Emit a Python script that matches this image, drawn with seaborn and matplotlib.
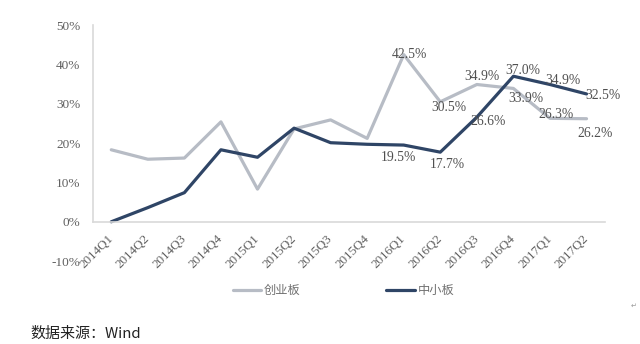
import matplotlib
matplotlib.use("Agg")
import matplotlib.pyplot as plt
import seaborn as sns
import pandas as pd

quarters = ["2014Q1", "2014Q2", "2014Q3", "2014Q4", "2015Q1", "2015Q2", "2015Q3",
            "2015Q4", "2016Q1", "2016Q2", "2016Q3", "2016Q4", "2017Q1", "2017Q2"]
chuangye = [18.3, 15.9, 16.2, 25.4, 8.3, 23.6, 25.9, 21.2, 42.5, 30.5, 34.9, 33.9, 26.3, 26.2]
zhongxiao = [0.0, 3.6, 7.4, 18.3, 16.4, 23.8, 20.1, 19.7, 19.5, 17.7, 26.6, 37.0, 34.9, 32.5]
series_names = ["创业板", "中小板"]
yticks = [-10, 0, 10, 20, 30, 40, 50]

# labelled points: quarter index -> text offset in points
labels_cy = {8: (4, 0), 9: (6, -4), 10: (4, 6), 11: (9, -7), 12: (4, 3), 13: (6, -11)}
labels_zx = {8: (-4, -9), 9: (5, -9), 10: (8, -3), 11: (7, 4), 12: (9, 3), 13: (12, -1)}

sns.set_theme(style="white")
plt.rcParams['font.family'] = ['Liberation Serif', 'Noto Sans CJK SC', 'DejaVu Sans']

df = pd.DataFrame({
    "quarter": quarters * 2,
    "value": chuangye + zhongxiao,
    "series": [series_names[0]] * len(quarters) + [series_names[1]] * len(quarters),
})
df["x"] = list(range(len(quarters))) * 2

fig = plt.figure(figsize=(6.4, 3.44), dpi=100)
ax = fig.add_axes([0.1453, 0.241, 0.7997, 0.686])

palette = {series_names[0]: "#b7bcc5", series_names[1]: "#2f4566"}
sns.lineplot(data=df, x="x", y="value", hue="series", palette=palette,
             linewidth=2.3, ax=ax, legend=False)

for s in ["top", "right"]:
    ax.spines[s].set_visible(False)
ax.spines["bottom"].set_position(("data", 0))
ax.spines["bottom"].set_color("#d9d9d9")
ax.spines["bottom"].set_linewidth(1.2)
ax.spines["left"].set_color("#d9d9d9")
ax.spines["left"].set_linewidth(1.2)

ax.set_xlim(-0.5, len(quarters) - 0.5)
ax.set_ylim(-10, 50)
ax.spines["left"].set_bounds(0, 50)
ax.set_yticks(yticks)
ax.set_yticklabels([f"{v}%" for v in yticks], fontsize=9.5, color="#606060")
ax.set_xticks(range(len(quarters)))
ax.set_xticklabels(quarters, rotation=45, ha="right", va="center",
                   rotation_mode="anchor", fontsize=9.4, color="#606060")
ax.tick_params(axis="both", length=0)
ax.tick_params(axis="x", pad=11)
ax.tick_params(axis="y", pad=9)
ax.set_xlabel("")
ax.set_ylabel("")

for i, (dx, dy) in labels_cy.items():
    ax.annotate(f"{chuangye[i]:.1f}%", (i, chuangye[i]), xytext=(dx, dy),
                textcoords="offset points", ha="center", va="center",
                fontsize=9.8, color="#505050")
for i, (dx, dy) in labels_zx.items():
    ax.annotate(f"{zhongxiao[i]:.1f}%", (i, zhongxiao[i]), xytext=(dx, dy),
                textcoords="offset points", ha="center", va="center",
                fontsize=9.8, color="#505050")

# legend
handles = [plt.Line2D([], [], color=palette[n], linewidth=2.3) for n in series_names]
leg = fig.legend(handles, series_names, loc="center", bbox_to_anchor=(0.537, 0.155),
                 ncol=2, frameon=False, fontsize=8.8, handlelength=2.3,
                 handletextpad=0.25, columnspacing=7.0)
for t in leg.get_texts():
    t.set_color("#707070")
    t.set_family(["Noto Sans CJK SC"])

fig.text(0.047, 0.03, "数据来源：Wind", fontsize=10.8, color="#222222",
         family=["Noto Sans CJK SC", "DejaVu Sans"], ha="left", va="center")
fig.text(0.994, 0.11, "↵", fontsize=5, color="#999999",
         family=["DejaVu Sans"], ha="right", va="center")

fig.savefig("out.png", dpi=100)
